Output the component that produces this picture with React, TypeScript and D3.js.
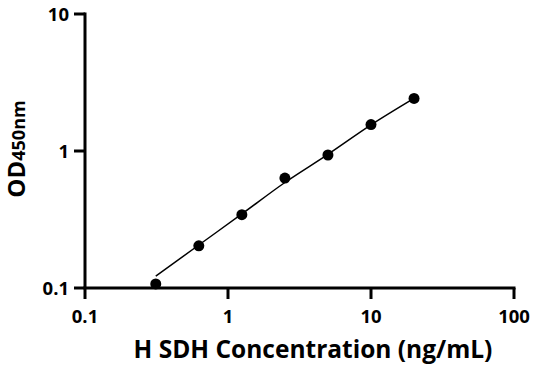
// @ts-nocheck
import * as d3 from "d3"
import * as React from "react"

const concentrations = [0.3125, 0.625, 1.25, 2.5, 5, 10, 20]
const odValues = [0.107, 0.203, 0.343, 0.635, 0.935, 1.56, 2.42]
// standard curve at each concentration
const fittedOd = [0.122, 0.206, 0.347, 0.589, 0.945, 1.55, 2.42]
const xTicks = [0.1, 1, 10, 100]
const yTicks = [0.1, 1, 10]

const width = 536
const height = 371
const margin = { top: 14, right: 22, bottom: 83, left: 85 }
const font = "'Open Sans', sans-serif"

export default function App() {
  const x = d3.scaleLog().domain([0.1, 100]).range([margin.left, width - margin.right])
  const y = d3.scaleLog().domain([0.1, 10]).range([height - margin.bottom, margin.top])
  const line = d3.line()
    .x((d, i) => x(concentrations[i]))
    .y(d => y(d))
    .curve(d3.curveMonotoneX)
  const x0 = x(0.1)
  const y0 = y(0.1)

  return (
    <svg width={width} height={height} style={{ position: "absolute", left: 0, top: 0, background: "#fff" }}>
      <path d={line(fittedOd)} fill="none" stroke="#000" strokeWidth={1.5} />
      {concentrations.map((c, i) => (
        <circle key={i} cx={x(c)} cy={y(odValues[i])} r={5.5} fill="#000" />
      ))}
      <line x1={x0 - 1.5} x2={x(100) + 1.5} y1={y0} y2={y0} stroke="#000" strokeWidth={3} />
      <line x1={x0} x2={x0} y1={y(10) - 1.5} y2={y0} stroke="#000" strokeWidth={3} />
      {xTicks.map(t => (
        <g key={"x" + t}>
          <line x1={x(t)} x2={x(t)} y1={y0} y2={y0 + 11} stroke="#000" strokeWidth={3} />
          <text x={x(t)} y={y0 + 35} textAnchor="middle" fontFamily={font} fontWeight="bold" fontSize={18.5}>{t}</text>
        </g>
      ))}
      {yTicks.map(t => (
        <g key={"y" + t}>
          <line x1={x0 - 11} x2={x0} y1={y(t)} y2={y(t)} stroke="#000" strokeWidth={3} />
          <text x={x0 - 16} y={y(t)} dy="0.36em" textAnchor="end" fontFamily={font} fontWeight="bold" fontSize={18.5}>{t}</text>
        </g>
      ))}
      <text x={313} y={358} textAnchor="middle" fontFamily={font} fontWeight="bold" fontSize={24.5}>H SDH Concentration (ng/mL)</text>
      <text transform={`translate(25,149) rotate(-90)`} textAnchor="middle" fontFamily={font} fontWeight="bold" fontSize={24}>
        OD<tspan fontSize={18}>450nm</tspan>
      </text>
    </svg>
  )
}
